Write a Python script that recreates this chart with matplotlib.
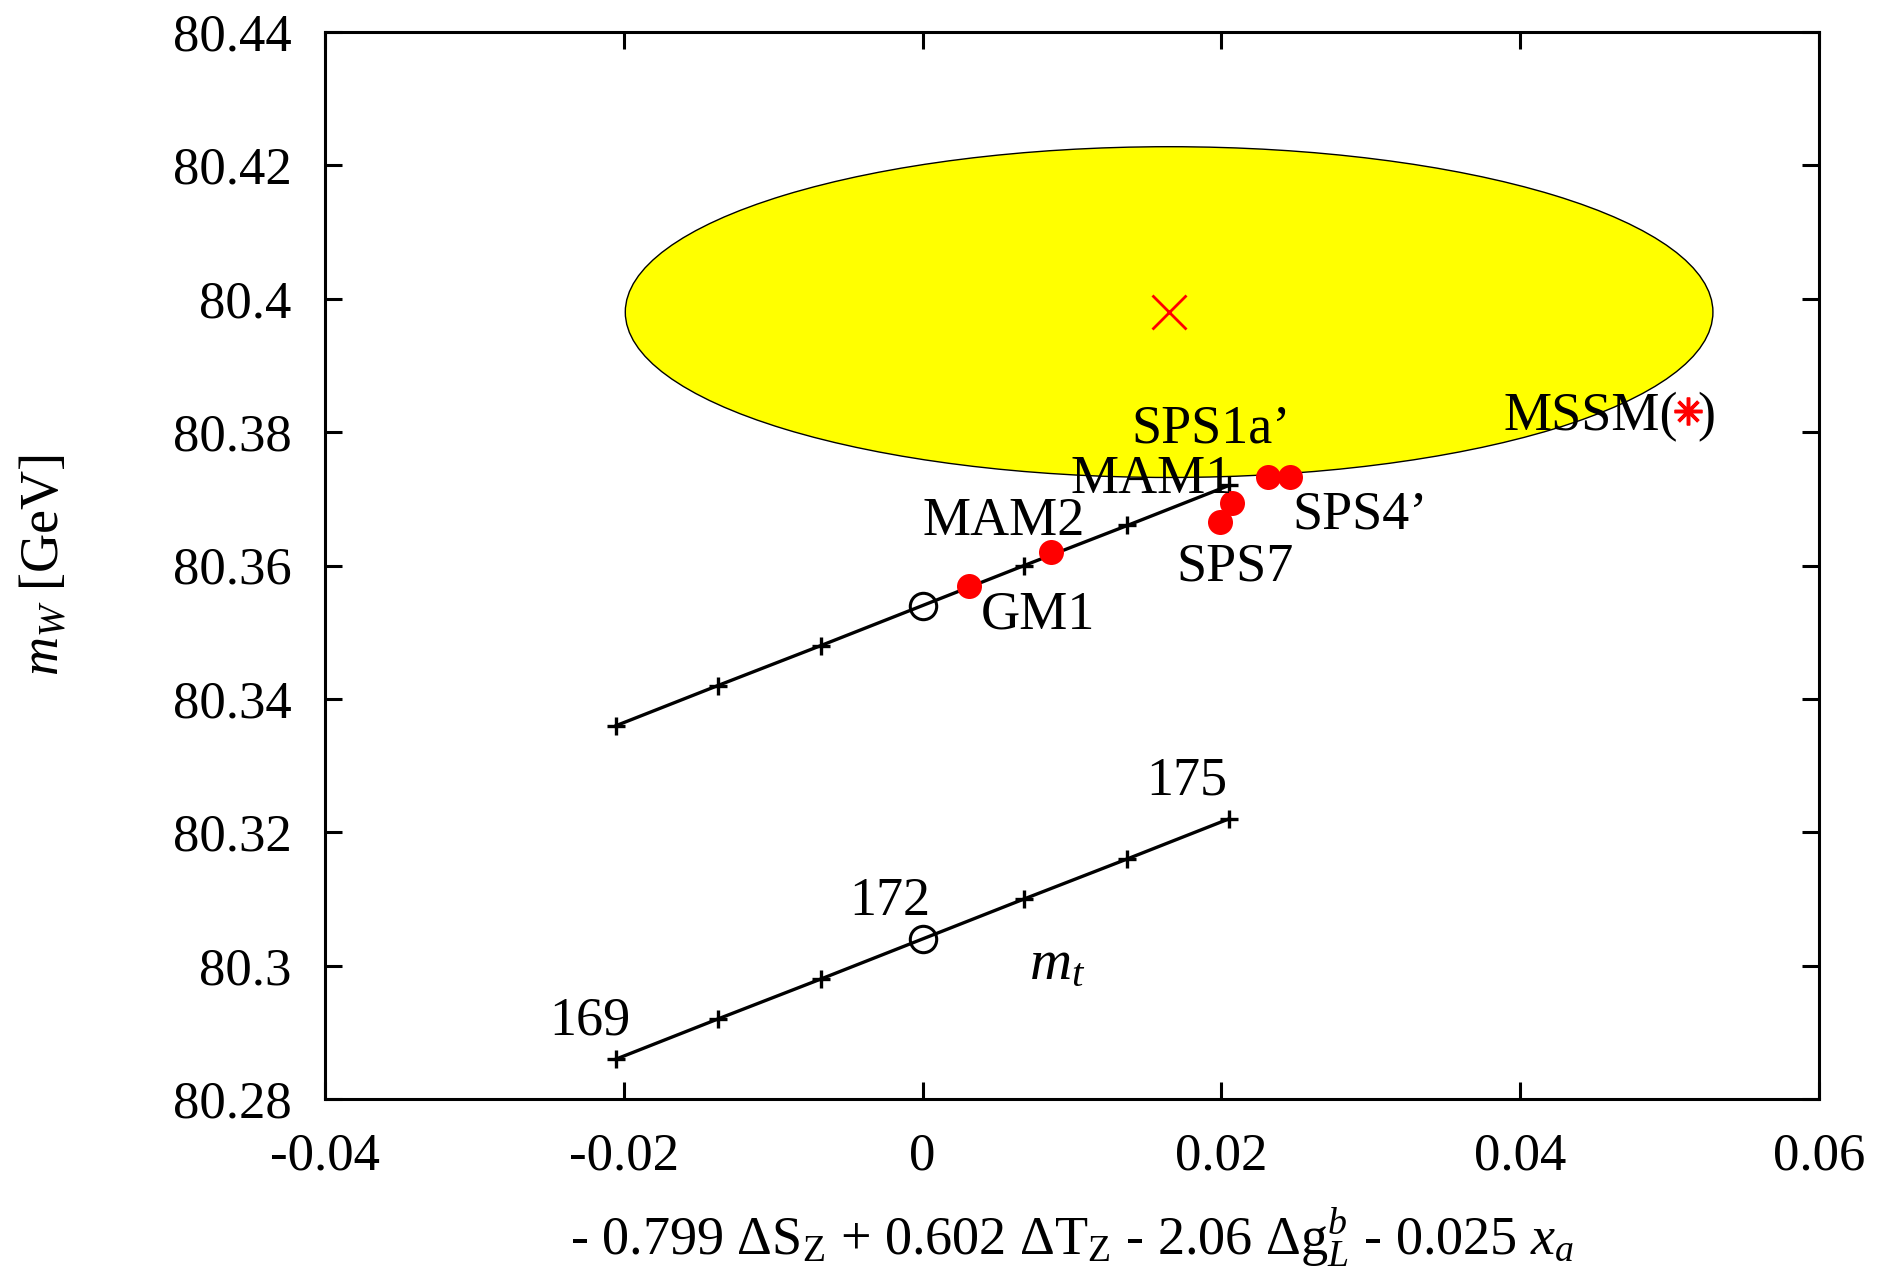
import matplotlib
matplotlib.use("Agg")
import matplotlib.pyplot as plt
from matplotlib.patches import Ellipse
from matplotlib.ticker import FuncFormatter

plt.rcParams["font.family"] = ["Liberation Serif", "DejaVu Serif"]
plt.rcParams["mathtext.fontset"] = "custom"
plt.rcParams["mathtext.rm"] = "Liberation Serif"
plt.rcParams["mathtext.it"] = "Liberation Serif:italic"

# top mass scan, 169 ... 175 GeV
mt_x = [-0.0205, -0.0137, -0.0068, 0.0, 0.0068, 0.0137, 0.0205]
mw_sm = [80.286, 80.292, 80.298, 80.304, 80.310, 80.316, 80.322]
mw_shift = [80.336, 80.342, 80.348, 80.354, 80.360, 80.366, 80.372]
mt_labels = ["169", "172", "175"]

# benchmark points
model_names = ["GM1", "MAM2", "SPS7", "MAM1", "SPS1a\u2019", "SPS4\u2019"]
model_x = [0.0031, 0.0086, 0.0199, 0.0207, 0.0231, 0.0246]
model_mw = [80.3569, 80.3620, 80.3665, 80.3693, 80.3733, 80.3733]

mssm_x = 0.0512
mssm_mw = 80.3832

# experimental ellipse
exp_x, exp_mw = 0.0165, 80.398
exp_dx, exp_dmw = 0.0364, 0.0248

xticks = [-0.04, -0.02, 0, 0.02, 0.04, 0.06]
yticks = [80.28, 80.30, 80.32, 80.34, 80.36, 80.38, 80.40, 80.42, 80.44]

fig = plt.figure(figsize=(18.79, 12.70), dpi=100)
ax = fig.add_axes([325 / 1879, 1 - 1099 / 1270, 1494 / 1879, 1067 / 1270])

ax.add_patch(Ellipse((exp_x, exp_mw), 2 * exp_dx, 2 * exp_dmw,
                     facecolor="#ffff00", edgecolor="black", lw=1.0, zorder=1))
ax.plot([exp_x], [exp_mw], "x", color="red", ms=24, mew=2, zorder=3)

plus_idx = [i for i in range(len(mt_x)) if i != 3]
for mw in (mw_sm, mw_shift):
    ax.plot(mt_x, mw, "-", color="black", lw=2.4, zorder=2)
    ax.plot([mt_x[i] for i in plus_idx], [mw[i] for i in plus_idx], "+",
            color="black", ms=13, mew=2.4, zorder=2)
    ax.plot([mt_x[3]], [mw[3]], "o", mfc="none", mec="black", ms=19, mew=2.2,
            zorder=3)

ax.plot(model_x, model_mw, "o", color="red", ms=18, mec="none", zorder=4)
ax.plot([mssm_x], [mssm_mw], marker=(8, 2, 0), color="red", ms=20, mew=2.5,
        ls="none", zorder=4)

fs = 39
label_pos = [(0.0077, 80.3526), (0.0054, 80.3666), (0.0209, 80.3598),
             (0.0153, 80.3729), (0.0193, 80.3805), (0.0293, 80.3675)]
for name, (lx, ly) in zip(model_names, label_pos):
    ax.text(lx, ly, name, fontsize=fs, ha="center", va="center", zorder=5)

ax.annotate("MSSM(", (mssm_x, mssm_mw), xytext=(-7, 0),
            textcoords="offset points", ha="right", va="center_baseline",
            fontsize=fs, zorder=5)
ax.annotate(")", (mssm_x, mssm_mw), xytext=(7, 0),
            textcoords="offset points", ha="left", va="center_baseline",
            fontsize=fs, zorder=5)

mt_label_pos = [(-0.0223, 80.2917), (-0.0022, 80.3096), (0.0177, 80.3276)]
for txt, (lx, ly) in zip(mt_labels, mt_label_pos):
    ax.text(lx, ly, txt, fontsize=fs, ha="center", va="center")
ax.text(0.009, 80.3001, "$m_t$", fontsize=fs + 3, ha="center", va="center")

ax.set_xlim(-0.04, 0.06)
ax.set_ylim(80.28, 80.44)
ax.set_xticks(xticks)
ax.set_yticks(yticks)
fmt = FuncFormatter(lambda v, p: "%g" % round(v, 4))
ax.xaxis.set_major_formatter(fmt)
ax.yaxis.set_major_formatter(fmt)
ax.tick_params(direction="in", length=12, width=2.2, labelsize=38, pad=24,
               top=True, right=True)
for sp in ax.spines.values():
    sp.set_linewidth(2.2)

ax.set_xlabel(r"- 0.799 $\Delta\mathrm{S}_\mathrm{Z}$ + 0.602 "
              r"$\Delta\mathrm{T}_\mathrm{Z}$ - 2.06 $\Delta\mathrm{g}_L^b$"
              r" - 0.025 $x_a$", fontsize=39, labelpad=18)
ax.set_ylabel(r"$m_W$ [GeV]", fontsize=39, labelpad=74)

fig.savefig("out.png", dpi=100)
